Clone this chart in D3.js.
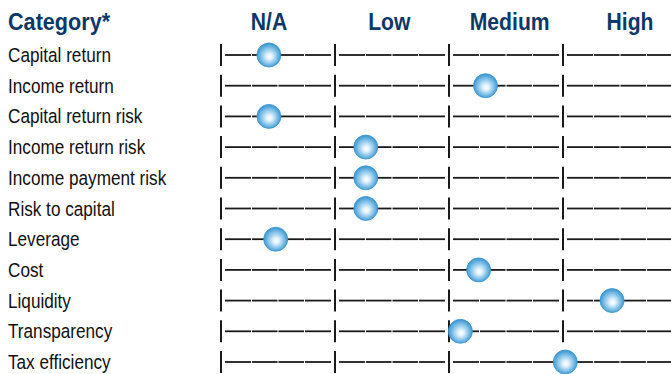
<!DOCTYPE html>
<html>
<head>
<meta charset="utf-8">
<script src="https://cdn.jsdelivr.net/npm/d3@7"></script>
<style>
  body { margin: 0; background: #fff; }
  svg { display: block; }
</style>
</head>
<body>
<div id="vizcont"></div>
<script>
// Risk / return profile by category
var categories = ["Capital return", "Income return", "Capital return risk", "Income return risk",
                  "Income payment risk", "Risk to capital", "Leverage", "Cost", "Liquidity",
                  "Transparency", "Tax efficiency"];
var levels = ["N/A", "Low", "Medium", "High"];
// position on a 0..4 scale (0-1 N/A, 1-2 Low, 2-3 Medium, 3-4 High)
var scores = [0.42, 2.32, 0.42, 1.27, 1.27, 1.27, 0.48, 2.26, 3.43, 2.10, 3.02];

var width = 671, height = 374;
var navy = "#0c3868";
var font = "'Liberation Sans', Arial, sans-serif";

var svg = d3.select("#vizcont")
            .append("svg")
            .attr("width", width)
            .attr("height", height);

var defs = svg.append("defs");
var grad = defs.append("radialGradient")
               .attr("id", "ball")
               .attr("cx", "50%").attr("cy", "52%").attr("r", "52%")
               .attr("fx", "53%").attr("fy", "58%");
grad.append("stop").attr("offset", "0%").attr("stop-color", "#ffffff");
grad.append("stop").attr("offset", "22%").attr("stop-color", "#e6f3fb");
grad.append("stop").attr("offset", "62%").attr("stop-color", "#86c4ea");
grad.append("stop").attr("offset", "100%").attr("stop-color", "#3592cd");

var x = d3.scaleLinear().domain([0, 4]).range([221, 677]);
var y = d3.scalePoint().domain(categories).range([55, 362]);
var xh = d3.scalePoint().domain(levels).range([269, 630]);

// narrow text: scale Arial-like glyphs horizontally
function narrowText(sel, sx) {
    return sel.attr("transform", function() {
        var t = d3.select(this);
        return "translate(" + t.attr("data-x") + "," + t.attr("data-y") + ") scale(" + sx + ",1)";
    });
}

// headers
svg.append("text")
   .attr("data-x", 8).attr("data-y", 30)
   .style("font", "bold 23px " + font)
   .style("fill", navy)
   .text("Category*")
   .call(narrowText, 0.94);

svg.selectAll(".lvl")
   .data(levels)
   .enter()
   .append("text")
   .attr("class", "lvl")
   .attr("data-x", function(d) { return xh(d); })
   .attr("data-y", 30)
   .attr("text-anchor", "middle")
   .style("font", "bold 23px " + font)
   .style("fill", navy)
   .text(function(d) { return d; })
   .call(narrowText, 0.92);

// row labels
svg.selectAll(".lab")
   .data(categories)
   .enter()
   .append("text")
   .attr("class", "lab")
   .attr("data-x", 8)
   .attr("data-y", function(d) { return y(d) + 7; })
   .style("font", "19.5px " + font)
   .style("fill", "#111")
   .text(function(d) { return d; })
   .call(narrowText, 0.88);

// tracks
var rows = svg.selectAll(".row")
              .data(categories)
              .enter()
              .append("g")
              .attr("class", "row")
              .attr("transform", function(d) { return "translate(0," + y(d) + ")"; });

rows.each(function() {
    var g = d3.select(this);
    d3.range(4).forEach(function(i) {
        var a = x(i) + 4, b = x(i + 1) - 4, step = (b - a) / 4;
        d3.range(4).forEach(function(q) {
            g.append("line")
             .attr("x1", a + q * step + (q > 0 ? 0.5 : 0))
             .attr("x2", a + (q + 1) * step - (q < 3 ? 0.5 : 0))
             .attr("y1", 0).attr("y2", 0)
             .attr("stroke", "#1a1a1a")
             .style("stroke-width", "1.8px");
        });
        g.append("line")
         .attr("x1", x(i)).attr("x2", x(i))
         .attr("y1", -11).attr("y2", 11)
         .attr("stroke", "#1a1a1a")
         .style("stroke-width", "2px");
    });
});

// markers
svg.selectAll(".ball")
   .data(categories)
   .enter()
   .append("circle")
   .attr("class", "ball")
   .attr("cx", function(d, i) { return x(scores[i]); })
   .attr("cy", function(d) { return y(d); })
   .attr("r", 12)
   .style("fill", "url(#ball)")
   .style("stroke", "#3b97d0")
   .style("stroke-width", "0.8px");
</script>
</body>
</html>
